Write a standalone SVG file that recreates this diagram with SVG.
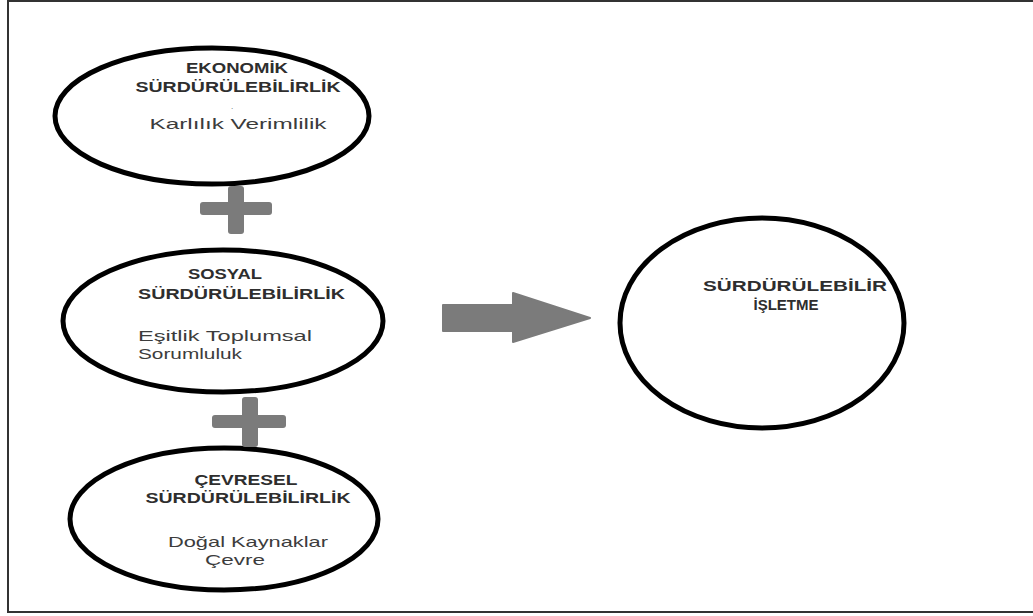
<svg xmlns="http://www.w3.org/2000/svg" width="1033" height="616" viewBox="0 0 1033 616">
  <style>
    .oval { fill: #ffffff; stroke: #000000; stroke-width: 5; }
    .title { font-family: "Liberation Sans", Arial, sans-serif; font-weight: bold; font-size: 15px; fill: #2e2e2e; }
    .body { font-family: "Liberation Sans", Arial, sans-serif; font-size: 15px; fill: #3c3c3c; }
    .dot { font-family: "Liberation Sans", Arial, sans-serif; font-size: 8px; fill: #555555; }
    .op { fill: #7b7b7b; }
  </style>

  <!-- page frame -->
  <rect x="0" y="0" width="1033" height="616" fill="#ffffff"/>
  <rect x="8" y="1" width="1030" height="611" fill="none" stroke="#333333" stroke-width="2"/>

  <!-- economic pillar -->
  <g id="node-ekonomik">
    <ellipse class="oval" cx="212" cy="116" rx="157" ry="68"/>
    <text class="title" x="237" y="73" text-anchor="middle" textLength="102" lengthAdjust="spacingAndGlyphs">EKONOMİK</text>
    <text class="title" x="238" y="92" text-anchor="middle" textLength="205" lengthAdjust="spacingAndGlyphs">SÜRDÜRÜLEBİLİRLİK</text>
    <text class="dot" x="232" y="109" text-anchor="middle">.</text>
    <text class="body" x="238" y="129" text-anchor="middle" textLength="177" lengthAdjust="spacingAndGlyphs">Karlılık Verimlilik</text>
  </g>

  <!-- social pillar -->
  <g id="node-sosyal">
    <ellipse class="oval" cx="223" cy="321" rx="160" ry="71"/>
    <text class="title" x="225" y="279" text-anchor="middle" textLength="74" lengthAdjust="spacingAndGlyphs">SOSYAL</text>
    <text class="title" x="138" y="299" textLength="207" lengthAdjust="spacingAndGlyphs">SÜRDÜRÜLEBİLİRLİK</text>
    <text class="body" x="138" y="341" textLength="174" lengthAdjust="spacingAndGlyphs">Eşitlik Toplumsal</text>
    <text class="body" x="138" y="359" textLength="104" lengthAdjust="spacingAndGlyphs">Sorumluluk</text>
  </g>

  <!-- environmental pillar -->
  <g id="node-cevresel">
    <ellipse class="oval" cx="224" cy="519" rx="154" ry="71"/>
    <text class="title" x="246" y="485" text-anchor="middle" textLength="103" lengthAdjust="spacingAndGlyphs">ÇEVRESEL</text>
    <text class="title" x="248" y="503" text-anchor="middle" textLength="205" lengthAdjust="spacingAndGlyphs">SÜRDÜRÜLEBİLİRLİK</text>
    <text class="body" x="248" y="547" text-anchor="middle" textLength="160" lengthAdjust="spacingAndGlyphs">Doğal Kaynaklar</text>
    <text class="body" x="235" y="565" text-anchor="middle" textLength="60" lengthAdjust="spacingAndGlyphs">Çevre</text>
  </g>

  <!-- outcome -->
  <g id="node-isletme">
    <ellipse class="oval" cx="762" cy="323" rx="142" ry="105"/>
    <text class="title" x="795" y="291" text-anchor="middle" textLength="184" lengthAdjust="spacingAndGlyphs">SÜRDÜRÜLEBİLİR</text>
    <text class="title" x="786" y="310" text-anchor="middle">İŞLETME</text>
  </g>

  <!-- plus signs and arrow -->
  <g id="connectors">
    <rect class="op" x="200" y="202" width="72" height="13" rx="3"/>
    <rect class="op" x="228" y="186" width="16" height="48" rx="3"/>
    <rect class="op" x="212" y="415" width="74" height="13" rx="3"/>
    <rect class="op" x="242" y="397" width="16" height="50" rx="3"/>
    <path class="op" d="M443,305 L513,305 L513,293 L590,318 L513,342 L513,331 L443,331 Z" stroke="#7b7b7b" stroke-width="2" stroke-linejoin="round"/>
  </g>
</svg>
